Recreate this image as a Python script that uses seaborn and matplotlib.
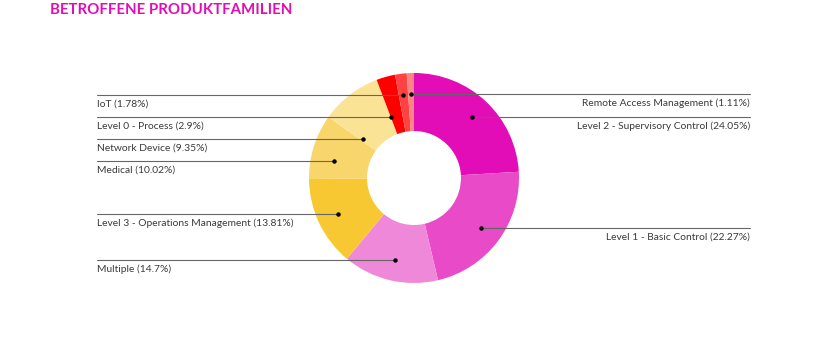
import numpy as np
import matplotlib
matplotlib.use("Agg")
import matplotlib.pyplot as plt
import seaborn as sns

# data (clockwise from 12 o'clock)
categories = ["Level 2 - Supervisory Control", "Level 1 - Basic Control", "Multiple",
              "Level 3 - Operations Management", "Medical", "Network Device",
              "Level 0 - Process", "IoT", "Remote Access Management"]
shares = [24.05, 22.27, 14.7, 13.81, 10.02, 9.35, 2.9, 1.78, 1.11]
share_labels = ["24.05%", "22.27%", "14.7%", "13.81%", "10.02%", "9.35%", "2.9%", "1.78%", "1.11%"]
colors = ["#E20DB6", "#E84AC8", "#F088DA", "#F8C832", "#F9D66B", "#FBE396",
          "#FF0000", "#FF4343", "#FF8585"]

sns.set_theme(style="white")
plt.rcParams["font.family"] = ["Lato", "DejaVu Sans"]

fig = plt.figure(figsize=(8.2, 3.6), dpi=100)
ax = fig.add_axes([0, 0, 1, 1])

cx, cy = 414, 182   # pixel-like data coords, y up
R, R_in = 105, 47

ax.pie(shares, colors=colors, startangle=90, counterclock=False, radius=R,
       center=(cx, cy), wedgeprops=dict(width=R - R_in, edgecolor="none", linewidth=0))

ax.set_xlim(0, 820)
ax.set_ylim(0, 360)
ax.set_aspect("equal")
ax.axis("off")

# label positions: dot on mid angle, labels pushed apart per side
frac = np.array(shares) / sum(shares)
mid = (np.cumsum(frac) - frac / 2) * 360
r0 = 0.8 * R
dot_x = cx + r0 * np.sin(np.radians(mid))
nat_y = cy + r0 * np.cos(np.radians(mid))
right = (mid < 180) | (mid > 354)

line_y = nat_y.copy()
gap = 22
for side in [True, False]:
    idx = [i for i in np.argsort(-nat_y) if right[i] == side]
    prev = None
    for i in idx:
        if prev is not None and line_y[i] > prev - gap:
            line_y[i] = prev - gap
        prev = line_y[i]

left_x, right_x = 97, 750
for i, cat in enumerate(categories):
    txt = f"{cat} ({share_labels[i]})"
    if right[i]:
        ax.plot([dot_x[i], right_x], [line_y[i], line_y[i]], color="#666666", lw=0.8)
        ax.text(right_x, line_y[i] - 4.5, txt, ha="right", va="top", fontsize=7.4, color="#3a3a3a")
    else:
        ax.plot([left_x, dot_x[i]], [line_y[i], line_y[i]], color="#666666", lw=0.8)
        ax.text(left_x, line_y[i] - 4.5, txt, ha="left", va="top", fontsize=7.4, color="#3a3a3a")
    ax.plot(dot_x[i], line_y[i], "o", color="black", ms=2.2)

fig.text(50 / 820, 1 - 9.5 / 360, "BETROFFENE PRODUKTFAMILIEN", ha="left", va="center",
         fontsize=10.8, fontweight="bold", color="#E20DB6")

fig.savefig("out.png", dpi=100)
